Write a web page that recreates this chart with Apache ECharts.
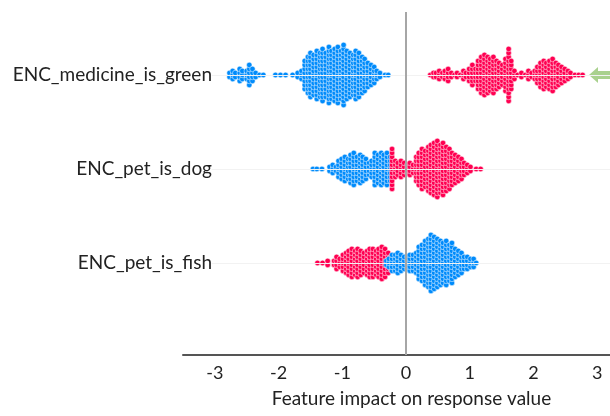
<!DOCTYPE html>
<html>
<head>
<meta charset="utf-8">
<script src="https://cdn.jsdelivr.net/npm/echarts@6/dist/echarts.min.js"></script>
<style>
  html, body { margin: 0; padding: 0; background: #fff; }
  #chart { width: 610px; height: 416px; }
</style>
</head>
<body>
<div id="chart"></div>
<script>
// row names, bottom to top (value 0, 1, 2 on the y axis)
var features = ["ENC_pet_is_fish", "ENC_pet_is_dog", "ENC_medicine_is_green"];
var xTicks = [-3, -2, -1, 0, 1, 2, 3];

// each entry: [shap value, number of dots stacked in that column]
var medicineBlue = [
  [-2.77, 2], [-2.72, 3], [-2.68, 2], [-2.61, 4], [-2.57, 3], [-2.50, 3], [-2.46, 6],
  [-2.41, 4], [-2.36, 2], [-2.30, 1], [-2.24, 1], [-2.05, 1], [-1.97, 1], [-1.89, 1],
  [-1.78, 1], [-1.70, 2], [-1.64, 3], [-1.59, 8], [-1.54, 10], [-1.50, 12], [-1.45, 11],
  [-1.40, 13], [-1.35, 12], [-1.31, 14], [-1.26, 12], [-1.21, 15], [-1.17, 13], [-1.12, 14],
  [-1.07, 15], [-1.02, 13], [-0.98, 16], [-0.93, 13], [-0.88, 12], [-0.83, 11], [-0.79, 13],
  [-0.74, 12], [-0.69, 10], [-0.65, 9], [-0.60, 7], [-0.55, 6], [-0.50, 5], [-0.46, 3],
  [-0.41, 2], [-0.33, 1], [-0.28, 1]
];
var medicineRed = [
  [0.38, 1], [0.43, 2], [0.47, 2], [0.52, 3], [0.57, 2], [0.61, 3], [0.66, 4], [0.71, 2],
  [0.76, 1], [0.80, 2], [0.85, 1], [0.90, 3], [0.94, 2], [0.99, 4], [1.04, 6], [1.09, 4],
  [1.13, 8], [1.18, 10], [1.23, 11], [1.28, 10], [1.32, 9], [1.37, 10], [1.42, 8], [1.46, 7],
  [1.51, 6], [1.56, 9], [1.61, 14], [1.65, 8], [1.70, 3], [1.75, 1], [1.81, 2], [1.87, 1],
  [1.92, 3], [1.97, 2], [2.02, 3], [2.06, 5], [2.11, 7], [2.16, 8], [2.20, 7], [2.25, 8],
  [2.30, 9], [2.35, 7], [2.39, 6], [2.44, 5], [2.49, 4], [2.54, 3], [2.58, 2], [2.65, 1],
  [2.71, 1], [2.77, 1]
];
var dogBlue = [
  [-1.46, 1], [-1.40, 1], [-1.32, 1], [-1.20, 2], [-1.15, 3], [-1.10, 2], [-1.06, 5],
  [-1.01, 6], [-0.96, 7], [-0.91, 6], [-0.87, 8], [-0.82, 9], [-0.77, 7], [-0.72, 8],
  [-0.68, 7], [-0.63, 6], [-0.58, 4], [-0.54, 5], [-0.49, 9], [-0.44, 8], [-0.39, 9],
  [-0.35, 8], [-0.30, 9], [-0.25, 7], [-0.09, 2], [0.03, 2], [0.09, 1]
];
var dogRed = [
  [-0.22, 11], [-0.17, 5], [-0.13, 4], [-0.08, 5], [-0.03, 4], [0.02, 3], [0.06, 4],
  [0.11, 3], [0.16, 7], [0.20, 9], [0.25, 11], [0.30, 10], [0.35, 12], [0.39, 13],
  [0.44, 14], [0.49, 15], [0.54, 13], [0.58, 14], [0.63, 12], [0.68, 11], [0.72, 9],
  [0.77, 8], [0.82, 7], [0.87, 6], [0.91, 4], [0.96, 3], [1.01, 2], [1.10, 1], [1.17, 1]
];
var fishRed = [
  [-1.39, 1], [-1.31, 1], [-1.23, 2], [-1.13, 2], [-1.09, 4], [-1.04, 3], [-0.99, 5],
  [-0.94, 6], [-0.90, 7], [-0.85, 8], [-0.80, 7], [-0.76, 8], [-0.71, 7], [-0.66, 6],
  [-0.61, 7], [-0.57, 8], [-0.52, 8], [-0.47, 7], [-0.43, 8], [-0.38, 9], [-0.33, 8],
  [-0.28, 6], [-0.24, 4], [-0.17, 3], [-0.11, 2], [-0.03, 2]
];
var fishBlue = [
  [-0.31, 2], [-0.27, 3], [-0.22, 5], [-0.17, 5], [-0.13, 6], [-0.08, 5], [-0.03, 4],
  [0.02, 4], [0.06, 5], [0.11, 5], [0.16, 6], [0.20, 9], [0.25, 10], [0.30, 12],
  [0.35, 13], [0.39, 15], [0.44, 14], [0.49, 13], [0.54, 12], [0.58, 11], [0.63, 12],
  [0.68, 10], [0.72, 11], [0.77, 8], [0.82, 7], [0.87, 6], [0.91, 4], [0.96, 4],
  [1.01, 3], [1.06, 3], [1.10, 1]
];

var BLUE = "#008bfb";
var RED = "#ff0051";
var FONT = "Lato";

var chart = echarts.init(document.getElementById("chart"));

chart.setOption({
  animation: false,
  grid: { left: 183, right: 0, top: 12, bottom: 61 },
  xAxis: {
    type: "value",
    min: -3.5,
    max: 3.2,
    name: "Feature impact on response value",
    nameLocation: "middle",
    nameGap: 34,
    nameTextStyle: { fontFamily: FONT, fontSize: 19, color: "#222", padding: [0, 0, 0, 30] },
    axisLine: { show: true, onZero: false, lineStyle: { color: "#555", width: 2 } },
    axisTick: { show: false },
    splitLine: { show: false },
    axisLabel: {
      customValues: xTicks,
      margin: 9,
      fontFamily: FONT,
      fontSize: 18,
      color: "#222"
    }
  },
  yAxis: {
    type: "value",
    min: -0.98,
    max: 2.67,
    axisLine: { show: false },
    axisTick: { show: false },
    splitLine: { show: false },
    axisLabel: {
      customValues: [0, 1, 2],
      margin: -29,
      fontFamily: FONT,
      fontSize: 19,
      color: "#222",
      formatter: function (v) { return features[Math.round(v)] || ""; }
    }
  },
  series: []
});

// pixel size of one y unit, so dots can be stacked a fixed pixel step apart
var pxPerUnit = Math.abs(chart.convertToPixel({ yAxisIndex: 0 }, 0) - chart.convertToPixel({ yAxisIndex: 0 }, 1));
var dotStep = 4 / pxPerUnit;

function swarm(columns, row) {
  var pts = [];
  columns.forEach(function (c) {
    var n = c[1];
    for (var k = 0; k < n; k++) {
      pts.push([c[0], row + (k - (n - 1) / 2) * dotStep]);
    }
  });
  return pts;
}

function dots(data, color) {
  return {
    type: "scatter",
    data: data,
    symbolSize: 5.5,
    itemStyle: { color: color, opacity: 1, borderColor: "#fff", borderWidth: 0.5 },
    silent: true
  };
}

// faint guide line across a row, starting right of its label
function rowLine(y) {
  return [
    { coord: [-3.05, y], lineStyle: { color: "#f2f2f2", width: 1, type: "solid" } },
    { coord: [3.2, y] }
  ];
}

chart.setOption({
  series: [
    {
      type: "line",
      data: [],
      markLine: {
        silent: true,
        symbol: "none",
        label: { show: false },
        data: [
          rowLine(0), rowLine(1), rowLine(2),
          { xAxis: 0, lineStyle: { color: "#a6a6a6", width: 2, type: "solid" } }
        ]
      }
    },
    dots(swarm(medicineBlue, 2), BLUE),
    dots(swarm(medicineRed, 2), RED),
    dots(swarm(dogBlue, 1), BLUE),
    dots(swarm(dogRed, 1), RED),
    dots(swarm(fishRed, 0), RED),
    dots(swarm(fishBlue, 0), BLUE)
  ],
  graphic: [{
    // green pointer arrow next to the top row
    type: "polygon",
    shape: { points: [[589, 75], [598, 67], [598, 71], [610, 71], [610, 79], [598, 79], [598, 83]] },
    style: { fill: "#a9d18e" }
  }]
});
</script>
</body>
</html>
